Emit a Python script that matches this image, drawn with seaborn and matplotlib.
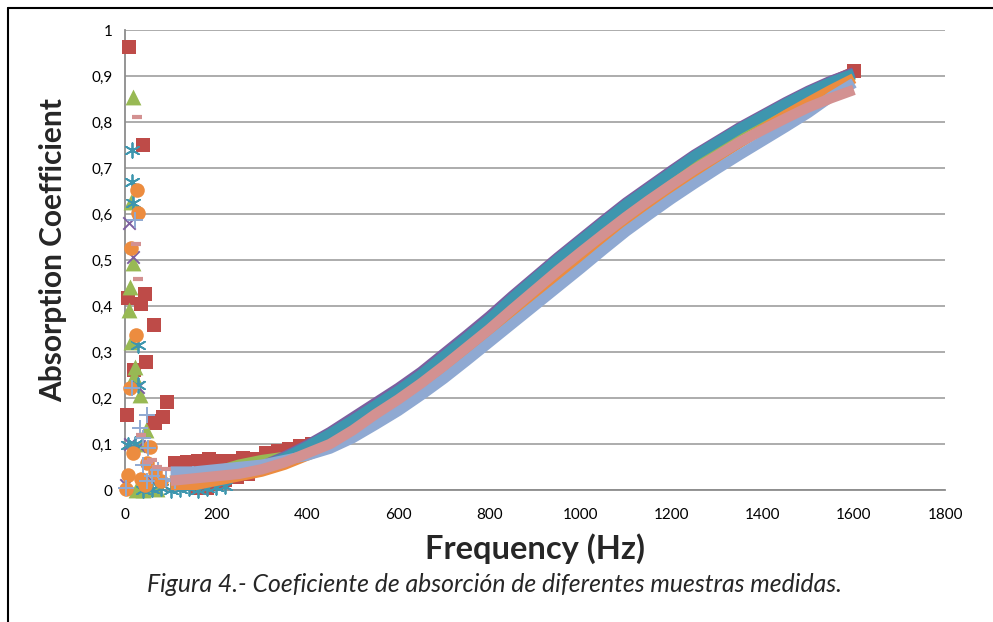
import numpy as np
import matplotlib
matplotlib.use("Agg")
import matplotlib.pyplot as plt
from matplotlib.lines import Line2D
import seaborn as sns

# ==================== DATA ====================

# common frequency grid for the smooth part of every curve (Hz)
freq_curve = [100, 150, 200, 250, 300, 350, 400, 450, 500, 550, 600, 650, 700,
              750, 800, 850, 900, 950, 1000, 1050, 1100, 1150, 1200, 1250,
              1300, 1350, 1400, 1450, 1500, 1550, 1600]

nan = np.nan
red_curve = [nan, nan, nan, nan, nan, nan, nan, 0.12, 0.148, 0.18, 0.212,
             0.247, 0.287, 0.327, 0.367, 0.412, 0.455, 0.497, 0.537, 0.577,
             0.617, 0.652, 0.687, 0.722, 0.752, 0.782, 0.81, 0.838, 0.864,
             0.888, 0.91]
green_curve = [0.02, 0.03, 0.04, 0.055, 0.065, 0.072, 0.093, 0.117, 0.147,
               0.18, 0.212, 0.247, 0.287, 0.327, 0.367, 0.412, 0.455, 0.497,
               0.537, 0.577, 0.617, 0.652, 0.687, 0.722, 0.752, 0.782, 0.81,
               0.837, 0.862, 0.884, 0.902]
purple_curve = [0.005, 0.01, 0.02, 0.035, 0.052, 0.073, 0.098, 0.126, 0.158,
                0.19, 0.222, 0.257, 0.297, 0.337, 0.378, 0.422, 0.464, 0.506,
                0.546, 0.586, 0.625, 0.66, 0.695, 0.729, 0.759, 0.789, 0.816,
                0.843, 0.868, 0.89, 0.908]
teal_curve = [0.005, 0.01, 0.02, 0.035, 0.05, 0.07, 0.095, 0.122, 0.152,
              0.184, 0.216, 0.251, 0.291, 0.331, 0.372, 0.417, 0.46, 0.502,
              0.542, 0.582, 0.621, 0.656, 0.691, 0.726, 0.756, 0.786, 0.813,
              0.84, 0.865, 0.887, 0.905]
orange_curve = [0.005, 0.01, 0.02, 0.03, 0.04, 0.055, 0.075, 0.095, 0.12,
                0.152, 0.184, 0.219, 0.257, 0.297, 0.337, 0.379, 0.421, 0.463,
                0.503, 0.543, 0.582, 0.62, 0.656, 0.69, 0.723, 0.755, 0.785,
                0.815, 0.843, 0.87, 0.895]
lblue_curve = [0.04, 0.04, 0.045, 0.05, 0.055, 0.065, 0.075, 0.09, 0.113,
               0.142, 0.172, 0.206, 0.242, 0.281, 0.321, 0.361, 0.401, 0.441,
               0.481, 0.522, 0.562, 0.598, 0.633, 0.666, 0.698, 0.729, 0.759,
               0.789, 0.82, 0.855, 0.885]
pink_curve = [0.02, 0.025, 0.03, 0.035, 0.045, 0.06, 0.08, 0.1, 0.13, 0.165,
              0.197, 0.232, 0.27, 0.31, 0.35, 0.393, 0.435, 0.477, 0.517,
              0.556, 0.594, 0.63, 0.664, 0.697, 0.727, 0.757, 0.783, 0.808,
              0.832, 0.852, 0.87]

# noisy low-frequency points of each measurement
red_f = [9, 40, 7, 44, 35, 64, 45, 20, 92, 5, 83, 62, 66,
         110, 135, 160, 185, 210, 235, 260, 285, 310, 335, 360, 385, 410,
         155, 180, 200, 220, 245, 270, 1600]
red_v = [0.964, 0.75, 0.417, 0.426, 0.404, 0.358, 0.279, 0.26, 0.192, 0.163,
         0.158, 0.149, 0.145,
         0.058, 0.06, 0.062, 0.068, 0.063, 0.062, 0.07, 0.068, 0.08, 0.085,
         0.09, 0.095, 0.1,
         0.004, 0.004, 0.012, 0.022, 0.028, 0.035, 0.91]
green_f = [17, 13, 18, 11, 9, 13, 22, 20, 33, 46, 37, 25, 40, 55, 70]
green_v = [0.855, 0.627, 0.494, 0.442, 0.391, 0.322, 0.268, 0.248, 0.207,
           0.13, 0.10, 0.0, 0.0, 0.005, 0.003]
purple_f = [9, 18, 29, 11, 2, 30, 60]
purple_v = [0.581, 0.506, 0.225, 0.10, 0.01, 0.095, 0.02]
teal_f = [16, 16, 18, 28, 29, 7, 22, 40, 60, 80, 100, 120, 140, 160, 180,
          200, 220]
teal_v = [0.739, 0.669, 0.624, 0.315, 0.228, 0.098, 0.10, 0.0, 0.003, 0.005,
          0.0, 0.003, 0.005, 0.0, 0.004, 0.006, 0.008]
orange_f = [26, 28, 13, 24, 11, 55, 18, 48, 7, 44, 3, 35, 65, 80]
orange_v = [0.652, 0.603, 0.527, 0.338, 0.221, 0.094, 0.08, 0.058, 0.032,
            0.01, 0.003, 0.025, 0.04, 0.02]
lblue_f = [22, 15, 48, 33, 40, 51, 40, 73, 48, 2, 60, 90, 110, 130, 150]
lblue_v = [0.588, 0.221, 0.163, 0.135, 0.113, 0.091, 0.055, 0.043, 0.02,
           0.005, 0.03, 0.025, 0.02, 0.03, 0.035]
pink_f = [27, 24, 29, 35, 50, 70, 90, 60]
pink_v = [0.81, 0.534, 0.459, 0.12, 0.06, 0.05, 0.045, 0.065]

x_ticks = [0, 200, 400, 600, 800, 1000, 1200, 1400, 1600, 1800]
y_ticks = [0, 0.1, 0.2, 0.3, 0.4, 0.5, 0.6, 0.7, 0.8, 0.9, 1.0]
y_tick_labels = ["0", "0,1", "0,2", "0,3", "0,4", "0,5", "0,6", "0,7", "0,8",
                 "0,9", "1"]

# ==================== PLOT ====================

sns.set_style("white")
plt.rcParams['font.family'] = ['Lato', 'DejaVu Sans']

fig = plt.figure(figsize=(9.93, 6.22), dpi=100)
ax = fig.add_axes([0.1259, 0.2122, 0.8258, 0.7395])

# (curve, low f, low v, colour, marker, size, line width of marker)
series = [
    (red_curve, red_f, red_v, "#BE4B48", "s", 100, 0),
    (green_curve, green_f, green_v, "#98B954", "^", 130, 0),
    (purple_curve, purple_f, purple_v, "#7D5FA0", "x", 80, 1.4),
    (teal_curve, teal_f, teal_v, "#3E96AE", (6, 2, 0), 110, 1.3),
    (orange_curve, orange_f, orange_v, "#EC8C3F", "o", 110, 0),
    (lblue_curve, lblue_f, lblue_v, "#8FA9D2", "+", 120, 1.4),
    (pink_curve, pink_f, pink_v, "#D39191", "_", 50, 3),
]

for i, (curve, lf, lv, color, marker, size, mlw) in enumerate(series):
    z = 3 + i
    sns.lineplot(x=freq_curve, y=curve, color=color, linewidth=7.5,
                 solid_capstyle="butt", ax=ax, zorder=z, legend=False)
    sns.scatterplot(x=lf, y=lv, color=color, marker=marker, s=size,
                    linewidth=mlw, edgecolor=color, ax=ax, zorder=z + 0.5,
                    legend=False, clip_on=False)

ax.set_xlim(0, 1800)
ax.set_ylim(0, 1)
ax.set_xticks(x_ticks)
ax.set_xticklabels([str(t) for t in x_ticks])
ax.set_yticks(y_ticks)
ax.set_yticklabels(y_tick_labels)
ax.tick_params(length=0, labelsize=11, colors="#000000")
ax.tick_params(axis="x", pad=13)
ax.tick_params(axis="y", pad=9)

ax.yaxis.grid(True, color="#A6A6A6", linewidth=1.3)
ax.xaxis.grid(False)
ax.set_axisbelow(True)
for side in ["top", "right"]:
    ax.spines[side].set_visible(False)
for side in ["left", "bottom"]:
    ax.spines[side].set_color("#8C8C8C")
    ax.spines[side].set_linewidth(1.3)

ax.set_xlabel("Frequency (Hz)", fontsize=23.5, fontweight="bold")
ax.set_ylabel("Absorption Coefficient", fontsize=21.5, fontweight="bold")
ax.xaxis.set_label_coords(0.5, -0.095)
ax.yaxis.set_label_coords(-0.07, 0.522)

fig.text(0.4975, 0.0595,
         "Figura 4.- Coeficiente de absorción de diferentes muestras medidas.",
         ha="center", va="center", fontsize=17.8, fontstyle="italic")

# frame around the figure (top and left edges only are visible)
fig.add_artist(Line2D([8 / 993, 1], [1 - 8 / 622, 1 - 8 / 622],
                      transform=fig.transFigure, color="black", linewidth=1.5))
fig.add_artist(Line2D([8 / 993, 8 / 993], [0, 1 - 8 / 622],
                      transform=fig.transFigure, color="black", linewidth=1.5))

fig.savefig("out.png", dpi=100)
